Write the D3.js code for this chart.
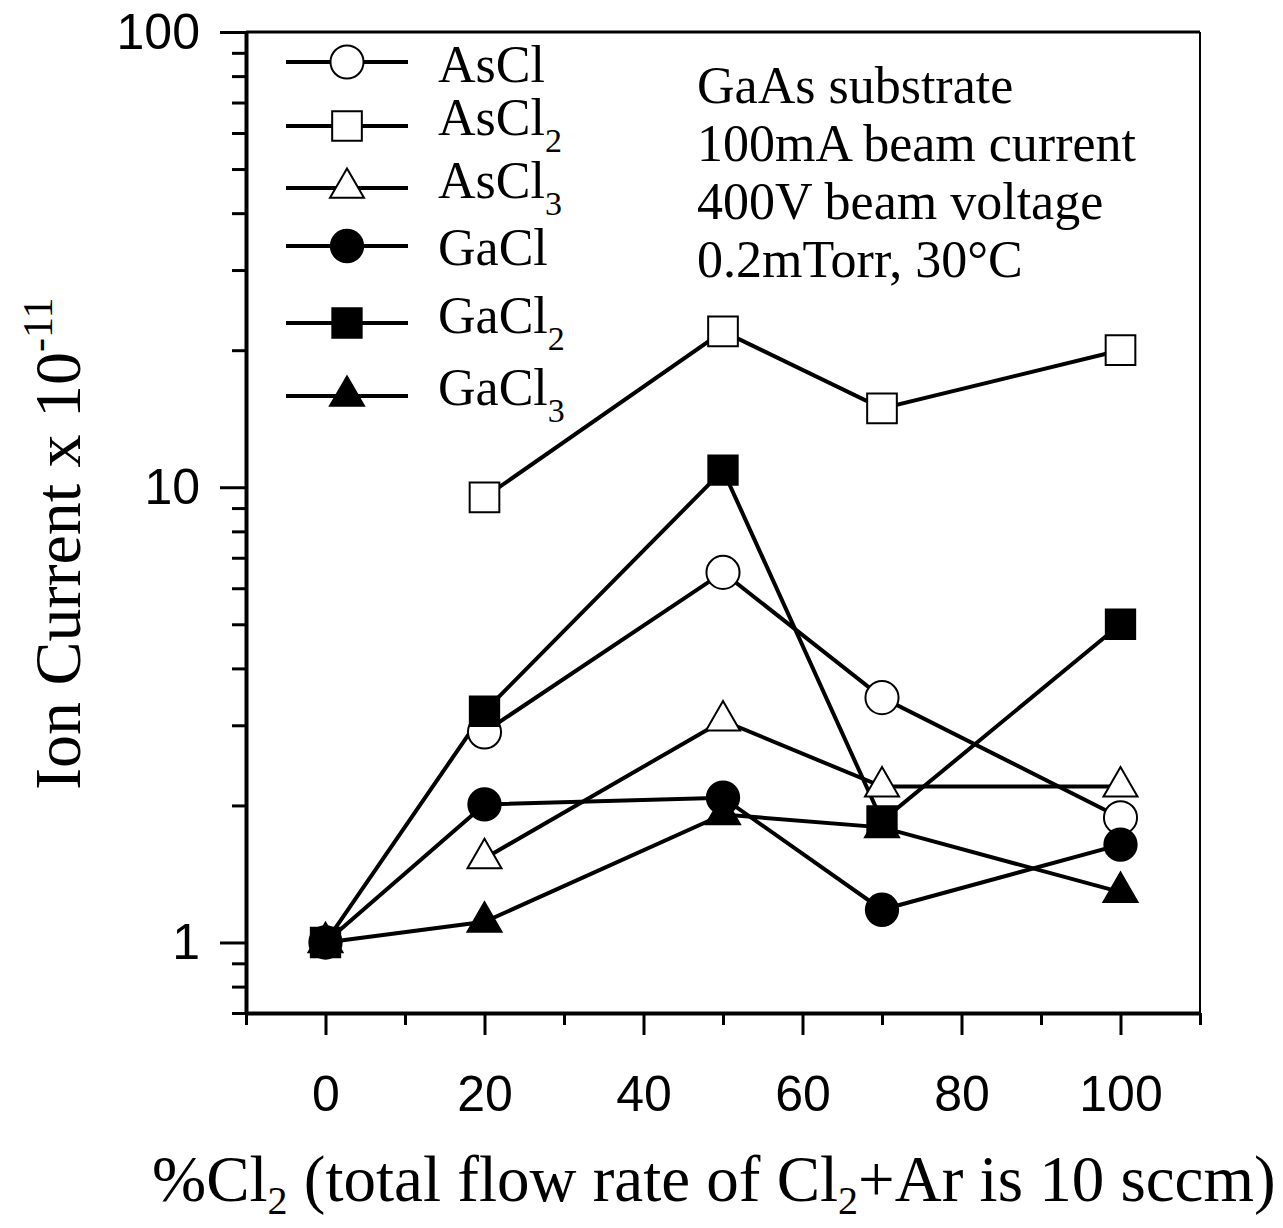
<!DOCTYPE html>
<html>
<head>
<meta charset="utf-8">
<script src="https://cdn.jsdelivr.net/npm/d3@7"></script>
<style>
  body { margin: 0; background: #fff; }
  svg { display: block; }
  .serif { font-family: "Liberation Serif", "Times New Roman", serif; }
  .tick text { font-family: "Liberation Sans", Arial, sans-serif; font-size: 50px; fill: #000; }
</style>
</head>
<body>
<div id="chart"></div>
<script>
// x positions (%Cl2)
const flow = [0, 20, 50, 70, 100];

// ion current x 1e-11, null = no point
const asCl  = [null, 2.9, 6.5, 3.45, 1.88];
const asCl2 = [null, 9.5, 22, 14.9, 20];
const asCl3 = [null, 1.53, 3.07, 2.2, 2.2];
const gaCl  = [1, 2.01, 2.08, 1.18, 1.64];
const gaCl2 = [1, 3.22, 10.9, 1.85, 5.0];
const gaCl3 = [1, 1.11, 1.91, 1.79, 1.29];

const seriesNames = ["AsCl", "AsCl", "AsCl", "GaCl", "GaCl", "GaCl"];
const seriesSubs = ["", "2", "3", "", "2", "3"];
const seriesValues = [asCl, asCl2, asCl3, gaCl, gaCl2, gaCl3];

const xMajor = [0, 20, 40, 60, 80, 100];
const xMinor = [-10, 10, 30, 50, 70, 90, 110];
const yMajor = [1, 10, 100];
const yMinor = [0.7, 0.8, 0.9, 2, 3, 4, 5, 6, 7, 8, 9, 20, 30, 40, 50, 60, 70, 80, 90];

const notes = ["GaAs substrate", "100mA beam current", "400V beam voltage", "0.2mTorr, 30°C"];

const width = 1283, height = 1228;
const margin = ({ top: 32, right: 83, bottom: 215, left: 246 });

// marker look per series
const shapes = [d3.symbolCircle, d3.symbolSquare, d3.symbolTriangle, d3.symbolCircle, d3.symbolSquare, d3.symbolTriangle];
const sizes = [860, 880, 500, 820, 860, 500];
const fills = ["#fff", "#fff", "#fff", "#000", "#000", "#000"];

// legend rows are not evenly spaced in the original
const legendLineY = [62, 126, 188, 246, 323, 396];
const legendTextY = [82, 135, 198, 265, 333, 405];

let svg = d3.select("#chart")
    .append("svg")
    .attr("width", width)
    .attr("height", height);

let x = d3.scaleLinear()
    .domain([-10, 110])
    .range([margin.left, width - margin.right]);

let y = d3.scaleLog()
    .domain([0.7, 100])
    .range([height - margin.bottom, margin.top]);

// frame: top and right
svg.append("line")
    .attr("x1", x(-10)).attr("x2", x(110))
    .attr("y1", y(100)).attr("y2", y(100))
    .attr("stroke", "#000").attr("stroke-width", 3);
svg.append("line")
    .attr("x1", x(110)).attr("x2", x(110))
    .attr("y1", y(100)).attr("y2", y(0.7))
    .attr("stroke", "#000").attr("stroke-width", 2);

// bottom axis
svg.append("g")
    .attr("transform", `translate(0,${y(0.7)})`)
    .call(d3.axisBottom(x).tickValues(xMinor).tickSize(12).tickFormat(""))
    .call(g => g.select(".domain").remove())
    .selectAll("line").attr("stroke-width", 3);

svg.append("g")
    .attr("transform", `translate(0,${y(0.7)})`)
    .call(d3.axisBottom(x).tickValues(xMajor).tickSize(22).tickSizeOuter(0).tickPadding(40).tickFormat(d3.format("d")))
    .call(g => g.select(".domain").attr("stroke-width", 4))
    .selectAll("line").attr("stroke-width", 3);

// left axis
svg.append("g")
    .attr("transform", `translate(${x(-10)},0)`)
    .call(d3.axisLeft(y).tickValues(yMinor).tickSize(14).tickFormat(""))
    .call(g => g.select(".domain").remove())
    .selectAll("line").attr("stroke-width", 3);

svg.append("g")
    .attr("transform", `translate(${x(-10)},0)`)
    .call(d3.axisLeft(y).tickValues(yMajor).tickSize(26).tickSizeOuter(0).tickPadding(20).tickFormat(d3.format("d")))
    .call(g => g.select(".domain").attr("stroke-width", 4))
    .call(g => g.selectAll("text").attr("font-size", 53))
    .selectAll("line").attr("stroke-width", 3);

// lines
let line = d3.line()
    .defined(d => d[1] != null)
    .x(d => x(d[0]))
    .y(d => y(d[1]));

seriesValues.forEach(vals => {
    svg.append("path")
        .datum(flow.map((f, i) => [f, vals[i]]))
        .attr("fill", "none")
        .attr("stroke", "#000")
        .attr("stroke-width", 4)
        .attr("d", line);
});

// markers
seriesValues.forEach((vals, s) => {
    svg.append("g")
        .selectAll("path")
        .data(flow.map((f, i) => [f, vals[i]]).filter(d => d[1] != null))
        .join("path")
        .attr("transform", d => `translate(${x(d[0])},${y(d[1])})`)
        .attr("d", d3.symbol(shapes[s], sizes[s]))
        .attr("fill", fills[s])
        .attr("stroke", "#000")
        .attr("stroke-width", 2);
});

// legend
let legend = svg.append("g");
seriesNames.forEach((name, s) => {
    legend.append("line")
        .attr("x1", 286).attr("x2", 408)
        .attr("y1", legendLineY[s]).attr("y2", legendLineY[s])
        .attr("stroke", "#000").attr("stroke-width", 4);
    legend.append("path")
        .attr("transform", `translate(347,${legendLineY[s]})`)
        .attr("d", d3.symbol(shapes[s], sizes[s]))
        .attr("fill", fills[s])
        .attr("stroke", "#000")
        .attr("stroke-width", 2);
    let t = legend.append("text")
        .attr("class", "serif")
        .attr("x", 438)
        .attr("y", legendTextY[s])
        .attr("font-size", 52);
    t.append("tspan").text(name);
    if (seriesSubs[s]) {
        t.append("tspan").attr("font-size", 34).attr("dy", 17).text(seriesSubs[s]);
    }
});

// condition notes
svg.append("text")
    .attr("class", "serif")
    .attr("font-size", 52)
    .selectAll("tspan")
    .data(notes)
    .join("tspan")
    .attr("x", 697)
    .attr("y", (d, i) => 103 + i * 58)
    .text(d => d);

// y title
let yt = svg.append("text")
    .attr("class", "serif")
    .attr("font-size", 66)
    .attr("transform", "translate(80,790) rotate(-90)");
yt.append("tspan").text("Ion Current x 10");
yt.append("tspan").attr("font-size", 42).attr("dy", -28).text("-11");

// x title
let xt = svg.append("text")
    .attr("class", "serif")
    .attr("font-size", 65)
    .attr("x", 152)
    .attr("y", 1201);
xt.append("tspan").text("%Cl");
xt.append("tspan").attr("font-size", 40).attr("dy", 13).text("2");
xt.append("tspan").attr("dy", -13).text(" (total flow rate of Cl");
xt.append("tspan").attr("font-size", 40).attr("dy", 13).text("2");
xt.append("tspan").attr("dy", -13).text("+Ar is 10 sccm)");
</script>
</body>
</html>
